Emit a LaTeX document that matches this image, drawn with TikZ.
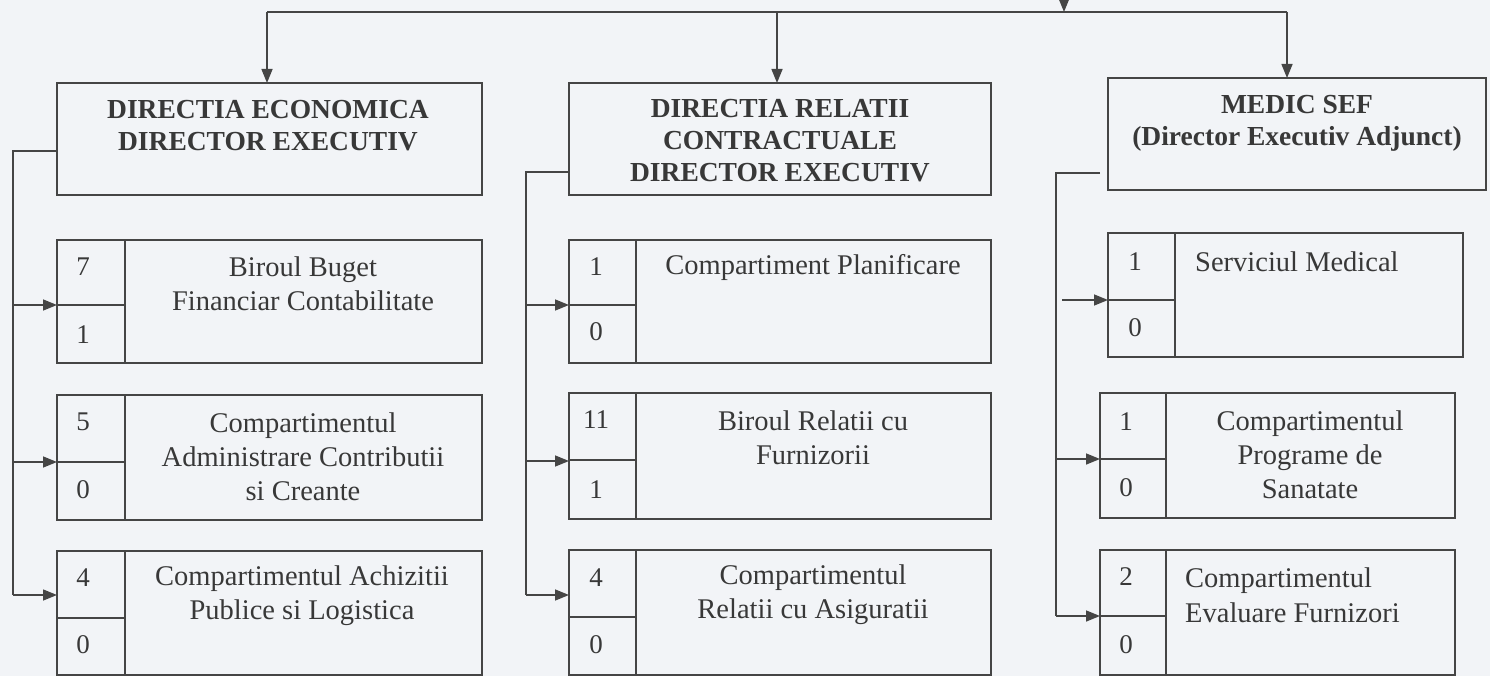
\documentclass[tikz,border=0pt]{standalone}
\usepackage{fontspec}
\setmainfont{Liberation Serif}
\usetikzlibrary{arrows.meta,calc}
\definecolor{bg}{HTML}{F2F4F7}
\definecolor{ln}{HTML}{454545}
\definecolor{tx}{HTML}{383838}
\begin{document}
\begin{tikzpicture}[x=1pt,y=-1pt,
  box/.style={draw=ln,line width=1.5pt,anchor=north west,inner sep=0pt,outer sep=0pt},
  conn/.style={draw=ln,line width=1.5pt},
  arr/.style={conn,-{Triangle[length=14pt,width=11pt]}},
  hd/.style={font=\fontsize{27.5}{32}\selectfont\bfseries,text=tx,align=center,inner sep=0pt},
  bt/.style={font=\fontsize{28.5}{34}\selectfont,text=tx,align=center,inner sep=0pt},
  btl/.style={font=\fontsize{28.5}{35}\selectfont,text=tx,align=left,inner sep=0pt,anchor=west},
  num/.style={font=\fontsize{27}{30}\selectfont,text=tx,inner sep=0pt}]
\fill[bg] (0,0) rectangle (1490,676);
\useasboundingbox (0,0) rectangle (1490,676);

% ---------- header boxes ----------
\node[box,minimum width=425pt,minimum height=112pt] (h1) at (57,83) {};
\node[box,minimum width=422pt,minimum height=112pt] (h2) at (569,83) {};
\node[box,minimum width=378pt,minimum height=112pt] (h3) at (1108,78) {};
\node[hd] (th1) at (268,126) {DIRECTIA ECONOMICA\\DIRECTOR EXECUTIV};
\node[hd] (th2) at (780,141) {DIRECTIA RELATII\\CONTRACTUALE\\DIRECTOR EXECUTIV};
\node[hd] (th3) at (1297,123) {MEDIC SEF\\(Director Executiv Adjunct)};

% ---------- top bus ----------
\coordinate (top) at (1064,-6);
\coordinate (busm) at (1064,12);
\coordinate (bus1) at (267,12);
\coordinate (bus2) at (777,12);
\coordinate (bus3) at (1287,12);
\draw[arr] (top) -- (busm);
\draw[conn] (bus1) -- (bus3);
\draw[arr] (bus1) -- (bus1 |- h1.north);
\draw[arr] (bus2) -- (bus2 |- h2.north);
\draw[arr] (bus3) -- (bus3 |- h3.north);

% ---------- column 1 ----------
\node[box,minimum width=425pt,minimum height=123pt] (s11) at (57,240) {};
\node[box,minimum width=425pt,minimum height=125pt] (s12) at (57,395) {};
\node[box,minimum width=425pt,minimum height=124pt] (s13) at (57,551) {};
\foreach \s/\h in {s11/65,s12/67,s13/67}{
  \draw[conn] ($(\s.north west)+(68,0)$) -- ($(\s.south west)+(68,0)$);
  \draw[conn] ($(\s.north west)+(0,\h)$) -- ($(\s.north west)+(68,\h)$);
}
\coordinate (c1a) at (13,151);
\coordinate (c1b) at (13,595);
\draw[conn] (h1.west |- c1a) -- (c1a) -- (c1b);
\draw[arr] (13,305) -- (s11.west |- 0,305);
\draw[arr] (13,462) -- (s12.west |- 0,462);
\draw[arr] (c1b) -- (s13.west |- c1b);

\node[bt] (t11) at (303,284) {Biroul Buget\\Financiar Contabilitate};
\node[bt] (t12) at (303,457) {Compartimentul\\Administrare Contributii\\si Creante};
\node[bt] (t13) at (302,596) {Compartimentul Achizitii\\Publice si Logistica};
\node[num] (n11a) at (83,267) {7};
\node[num] (n11b) at (83,335) {1};
\node[num] (n12a) at (83,422) {5};
\node[num] (n12b) at (83,490) {0};
\node[num] (n13a) at (83,578) {4};
\node[num] (n13b) at (83,645) {0};

% ---------- column 2 ----------
\node[box,minimum width=422pt,minimum height=123pt] (s21) at (569,240) {};
\node[box,minimum width=422pt,minimum height=126pt] (s22) at (569,393) {};
\node[box,minimum width=422pt,minimum height=125pt] (s23) at (569,550) {};
\foreach \s/\h in {s21/65,s22/67,s23/67}{
  \draw[conn] ($(\s.north west)+(67,0)$) -- ($(\s.south west)+(67,0)$);
  \draw[conn] ($(\s.north west)+(0,\h)$) -- ($(\s.north west)+(67,\h)$);
}
\coordinate (c2a) at (526,172);
\coordinate (c2b) at (526,595);
\draw[conn] (h2.west |- c2a) -- (c2a) -- (c2b);
\draw[arr] (526,305) -- (s21.west |- 0,305);
\draw[arr] (526,461) -- (s22.west |- 0,461);
\draw[arr] (c2b) -- (s23.west |- c2b);

\node[bt] (t21) at (813,267) {Compartiment Planificare};
\node[bt] (t22) at (813,438) {Biroul Relatii cu\\Furnizorii};
\node[bt] (t23) at (813,595) {Compartimentul\\Relatii cu Asiguratii};
\node[num] (n21a) at (596,267) {1};
\node[num] (n21b) at (596,332) {0};
\node[num] (n22a) at (596,420) {11};
\node[num] (n22b) at (596,490) {1};
\node[num] (n23a) at (596,578) {4};
\node[num] (n23b) at (596,645) {0};

% ---------- column 3 ----------
\node[box,minimum width=355pt,minimum height=124pt] (s31) at (1108,233) {};
\node[box,minimum width=355pt,minimum height=125pt] (s32) at (1100,393) {};
\node[box,minimum width=355pt,minimum height=125pt] (s33) at (1100,550) {};
\draw[conn] ($(s31.north west)+(67,0)$) -- ($(s31.south west)+(67,0)$);
\draw[conn] ($(s31.north west)+(0,67)$) -- ($(s31.north west)+(67,67)$);
\foreach \s in {s32,s33}{
  \draw[conn] ($(\s.north west)+(66,0)$) -- ($(\s.south west)+(66,0)$);
  \draw[conn] ($(\s.north west)+(0,66)$) -- ($(\s.north west)+(66,66)$);
}
\coordinate (c3h) at (1100,173);
\coordinate (c3a) at (1056,173);
\coordinate (c3b) at (1056,616);
\coordinate (c3s) at (1062,300);
\draw[conn] (c3h) -- (c3a) -- (c3b);
\draw[arr] (c3s) -- (s31.west |- c3s);
\draw[arr] (1056,459) -- (s32.west |- 0,459);
\draw[arr] (c3b) -- (s33.west |- c3b);

\node[btl] (t31) at (1195,262) {Serviciul Medical};
\node[bt] (t32) at (1310,455) {Compartimentul\\Programe de\\Sanatate};
\node[btl] (t33) at (1185,595) {Compartimentul\\Evaluare Furnizori};
\node[num] (n31a) at (1135,262) {1};
\node[num] (n31b) at (1135,328) {0};
\node[num] (n32a) at (1126,422) {1};
\node[num] (n32b) at (1126,488) {0};
\node[num] (n33a) at (1126,577) {2};
\node[num] (n33b) at (1126,645) {0};
\end{tikzpicture}
\end{document}
